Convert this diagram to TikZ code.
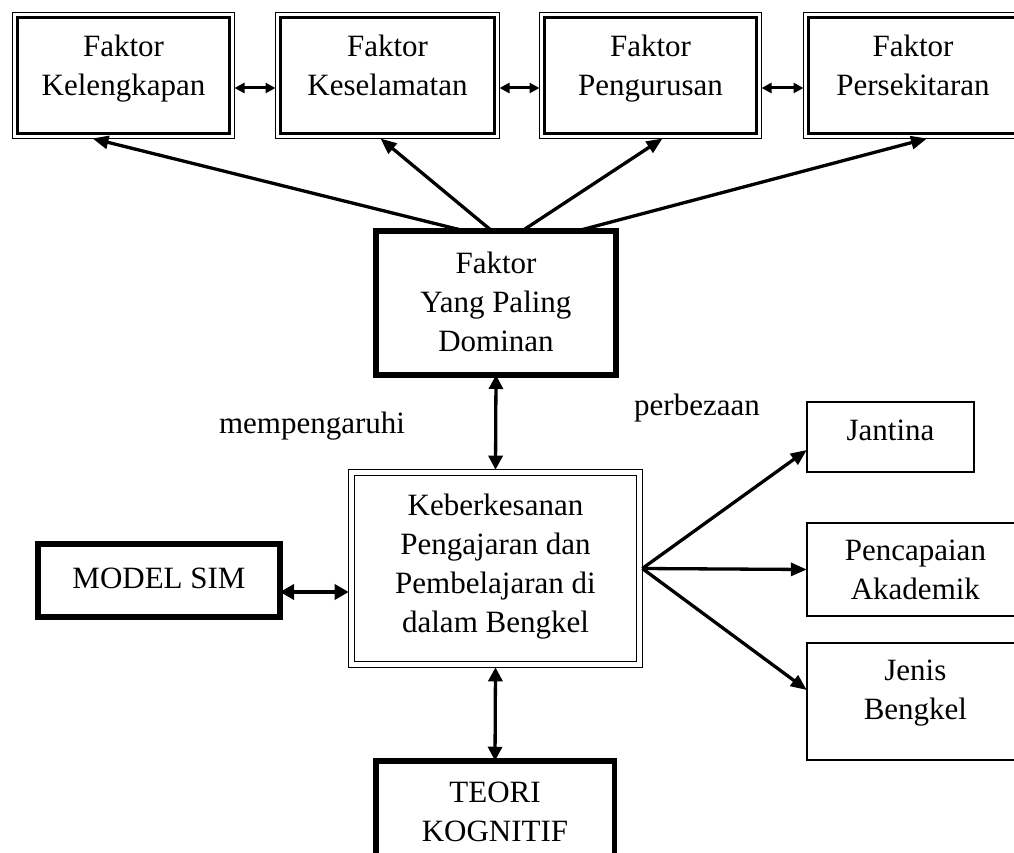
\documentclass[tikz,border=0pt]{standalone}
\usepackage{fontspec}
\setmainfont{Liberation Serif}
\usetikzlibrary{arrows.meta}
\newcommand{\mlines}[1]{\begin{tabular}[t]{@{}c@{}}#1\end{tabular}}
\renewcommand{\arraystretch}{1}
\begin{document}
\begin{tikzpicture}[x=1pt,y=-1pt,
  txt/.style={inner sep=0pt, outer sep=0pt, anchor=base, font=\fontsize{31}{39}\selectfont},
  box/.style={draw, rectangle, inner sep=0pt, outer sep=0pt},
  topbox/.style={box, line width=1.8pt, minimum height=126pt},
  heavybox/.style={box, line width=6pt},
  thinbox/.style={box, line width=1.6pt},
  arr/.style={line width=3.3pt, -{Triangle[length=16pt,width=13pt]}},
  darr/.style={line width=3.3pt, {Triangle[length=14pt,width=14pt]}-{Triangle[length=14pt,width=14pt]}},
  sarr/.style={line width=3pt, {Triangle[length=10pt,width=10pt]}-{Triangle[length=10pt,width=10pt]}}
]
\useasboundingbox (0,0) rectangle (1014,853);
\clip (0,0) rectangle (1014,853);

% top boxes
\node[topbox, minimum width=222pt] (b1) at (123.5,75.5) {};
\node[topbox, minimum width=224pt] (b2) at (387.5,75.5) {};
\node[topbox, minimum width=222pt] (b3) at (650.5,75.5) {};
\node[topbox, minimum width=219pt] (b4) at (913,75.5) {};
\foreach \b in {b1,b2,b3,b4}
  \draw[line width=2.4pt] ([xshift=5pt,yshift=-5pt]\b.north west) rectangle ([xshift=-5pt,yshift=5pt]\b.south east);

\node[txt] (t1) at (123.5,57) {\mlines{Faktor\\Kelengkapan}};
\node[txt] (t2) at (387.5,57) {\mlines{Faktor\\Keselamatan}};
\node[txt] (t3) at (650.5,57) {\mlines{Faktor\\Pengurusan}};
\node[txt] (t4) at (913,57) {\mlines{Faktor\\Persekitaran}};

% dominan box
\node[heavybox, minimum width=240pt, minimum height=144pt] (dom) at (496,303) {};
\node[txt] (tdom) at (496,273) {\mlines{Faktor\\Yang Paling\\Dominan}};

% central box
\node[box, line width=1.5pt, minimum width=293.6pt, minimum height=197.6pt] (ker) at (495.5,568.5) {};
\draw[line width=1.5pt] ([xshift=6pt,yshift=-6pt]ker.north west) rectangle ([xshift=-6pt,yshift=6pt]ker.south east);
\node[txt] (tker) at (495.5,515) {\mlines{Keberkesanan\\Pengajaran dan\\Pembelajaran di\\dalam Bengkel}};

% model sim
\node[heavybox, minimum width=242pt, minimum height=73pt] (ms) at (159,580.5) {};
\node[txt] (tms) at (159,588) {MODEL SIM};

% teori
\node[box, line width=5.5pt, minimum width=238.5pt, minimum height=118pt] (teori) at (495,819.75) {};
\node[txt] (tteori) at (495,802) {\mlines{TEORI\\KOGNITIF}};

% right boxes
\node[thinbox, minimum width=167.4pt, minimum height=70.4pt] (jan) at (890.5,437) {};
\node[txt] (tjan) at (890.5,440) {Jantina};
\node[thinbox, minimum width=217.2pt, minimum height=93.4pt] (pen) at (915.4,569.5) {};
\node[txt] (tpen) at (915.4,560) {\mlines{Pencapaian\\Akademik}};
\node[thinbox, minimum width=217.2pt, minimum height=117.4pt] (jen) at (915.4,701.5) {};
\node[txt] (tjen) at (915.4,680) {\mlines{Jenis\\Bengkel}};

% labels
\node[txt] (lmem) at (312,433) {mempengaruhi};
\node[txt] (lper) at (697,415) {perbezaan};

% top horizontal arrows
\draw[sarr] ([yshift=-12.5pt]b1.east) -- ([yshift=-12.5pt]b2.west);
\draw[sarr] ([yshift=-12.5pt]b2.east) -- ([yshift=-12.5pt]b3.west);
\draw[sarr] ([yshift=-12.5pt]b3.east) -- ([yshift=-12.5pt]b4.west);

% dominan to top boxes
\draw[arr] ([xshift=-31pt]dom.north) -- ([xshift=-31pt]b1.south);
\draw[arr] ([xshift=-4pt]dom.north) -- ([xshift=-7pt]b2.south);
\draw[arr] ([xshift=26pt]dom.north) -- ([xshift=12pt]b3.south);
\draw[arr] ([xshift=81pt]dom.north) -- ([xshift=14pt]b4.south);

% vertical
\draw[darr] (dom.south) -- (ker.north);
\draw[darr] (ker.south) -- (teori.north);

% model sim
\draw[line width=4.5pt, {Triangle[length=14pt,width=15pt]}-{Triangle[length=14pt,width=15pt]}] ([yshift=-11.5pt]ms.east) -- ([yshift=-23.5pt]ker.west);

% right
\draw[arr] (ker.east) -- ([yshift=-13pt]jan.west);
\draw[arr] (ker.east) -- (pen.west);
\draw[arr] (ker.east) -- ([yshift=11.5pt]jen.west);
\end{tikzpicture}
\end{document}
